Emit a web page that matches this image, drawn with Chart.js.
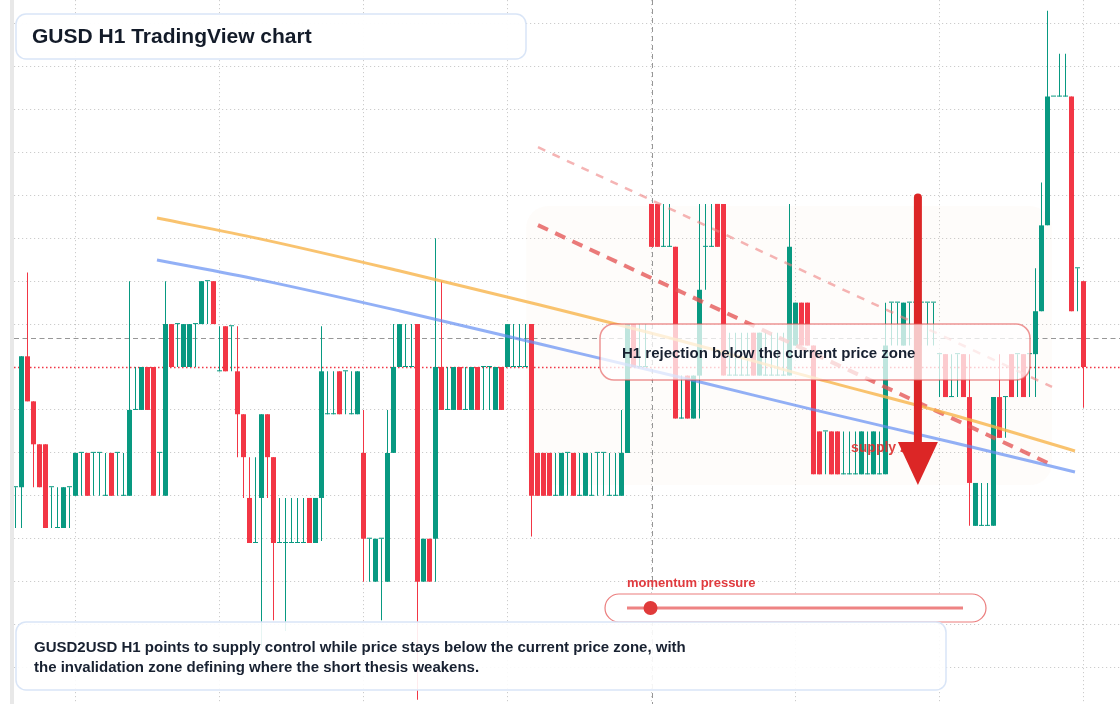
<!DOCTYPE html>
<html>
<head>
<meta charset="utf-8">
<title>GUSD H1 TradingView chart</title>
<script src="https://cdn.jsdelivr.net/npm/chart.js@4.4.1/dist/chart.umd.min.js"></script>
<style>
  html, body { margin: 0; padding: 0; background: #fff; }
  #wrap { width: 1120px; height: 704px; position: relative; }
</style>
</head>
<body>
<div id="wrap"><canvas id="gusdChart" width="1120" height="704"></canvas></div>
<script>
// H1 candles (index 0 = oldest bar)
const opens = [
  0.99944, 0.99944, 1.00005, 0.99984, 0.99964, 0.99964, 0.99944, 0.99925, 0.99925, 0.99944,
  0.9994, 0.9996, 0.9996, 0.9996, 0.9996, 0.9994, 0.9996, 0.9996, 0.9994, 0.9994,
  0.9998, 0.9998, 1.0, 1.0, 0.9996, 0.9994, 1.0002, 1.0002, 1.0, 1.0,
  1.0002, 1.0002, 1.0004, 1.0004, 0.99998, 1.00019, 1.00019, 0.99998, 0.99978, 0.99939,
  0.99918, 0.99939, 0.99978, 0.99958, 0.99918, 0.99918, 0.99918, 0.99918, 0.99918, 0.99939,
  0.99918, 0.99939, 0.99978, 0.99978, 0.99998, 0.99998, 0.99978, 0.99978, 0.9996, 0.9992,
  0.999, 0.9992, 0.999, 0.9996, 1.0, 1.0, 1.0, 1.0002, 0.999, 0.9992,
  0.9992, 1.0, 0.9998, 0.9998, 1.0, 0.9998, 0.9998, 1.0, 1.0, 1.0,
  0.9998, 1.0, 1.0, 1.0, 1.0, 1.0, 1.0002, 0.9996, 0.9996, 0.9996,
  0.9994, 0.9994, 0.9996, 0.9996, 0.9994, 0.9994, 0.9994, 0.9996, 0.9996, 0.9994,
  0.9994, 0.9994, 0.9996, 1.0002, 1.0, 1.0, 1.00076, 1.00076, 1.00056, 1.00056,
  1.00056, 0.99976, 0.99996, 0.99976, 0.99996, 1.00056, 1.00056, 1.00076, 1.00076, 0.99996,
  0.99996, 0.99996, 0.99996, 1.00016, 0.99996, 0.99996, 0.99996, 0.99996, 0.99996, 0.99996,
  1.0001, 1.0003, 1.0003, 1.0001, 0.9997, 0.9997, 0.9997, 0.9997, 0.9995, 0.9995,
  0.9995, 0.9995, 0.9995, 0.9995, 0.9995, 0.9995, 1.0003, 1.0003, 1.0001, 1.0003,
  1.0003, 1.0003, 1.0003, 1.0003, 1.00006, 1.00006, 0.99986, 1.00006, 1.00006, 0.99986,
  0.99926, 0.99926, 0.99926, 0.99926, 0.99986, 0.99986, 1.00006, 1.00006, 1.00006, 1.00006,
  1.00006, 1.00026, 1.00066, 1.00126, 1.00126, 1.00126, 1.00126, 1.00046, 1.0004,
];
const highs = [
  0.99944, 1.00005, 1.00044, 0.99984, 0.99964, 0.99964, 0.99944, 0.99944, 0.99944, 0.99944,
  0.9996, 0.9996, 0.9996, 0.9996, 0.9996, 0.9996, 0.9996, 0.9996, 0.9996, 1.0004,
  1.0, 1.0, 1.0, 1.0, 0.9996, 1.0004, 1.0002, 1.0002, 1.0002, 1.0002,
  1.0002, 1.0004, 1.0004, 1.0004, 1.00019, 1.00019, 1.00019, 1.00019, 0.99978, 0.99958,
  0.99958, 0.99978, 0.99978, 0.99958, 0.99939, 0.99939, 0.99939, 0.99939, 0.99939, 0.99939,
  0.99939, 1.00019, 0.99998, 0.99998, 0.99998, 0.99998, 0.99998, 0.99998, 0.9998, 0.9992,
  0.9992, 0.9992, 0.9998, 1.0002, 1.0002, 1.0002, 1.0002, 1.0002, 0.9992, 0.9992,
  1.0006, 1.0004, 1.0, 1.0, 1.0, 1.0, 1.0, 1.0, 1.0, 1.0,
  1.0, 1.0, 1.0002, 1.0002, 1.0002, 1.0002, 1.0002, 0.9996, 0.9996, 0.9996,
  0.9996, 0.9996, 0.9996, 0.9996, 0.9996, 0.9996, 0.9996, 0.9996, 0.9996, 0.9996,
  0.9996, 0.9998, 1.0002, 1.0002, 1.0002, 1.0002, 1.00076, 1.00076, 1.00076, 1.00076,
  1.00056, 0.99996, 0.99996, 0.99996, 1.00076, 1.00076, 1.00076, 1.00076, 1.00076, 1.00016,
  1.00016, 1.00016, 1.00016, 1.00016, 1.00016, 1.00016, 1.00016, 1.00016, 1.00016, 1.00076,
  1.0003, 1.0003, 1.0003, 1.0001, 0.9997, 0.9997, 0.9997, 0.9997, 0.9997, 0.9997,
  0.9997, 0.9997, 0.9997, 0.9997, 0.9997, 1.0003, 1.0003, 1.0003, 1.0003, 1.0003,
  1.0003, 1.0003, 1.0003, 1.0003, 1.00006, 1.00006, 1.00006, 1.00006, 1.00006, 1.00006,
  0.99946, 0.99946, 0.99946, 0.99986, 1.00006, 0.99986, 1.00006, 1.00006, 1.00006, 1.00006,
  1.00046, 1.00086, 1.00166, 1.00126, 1.00146, 1.00146, 1.00126, 1.00046, 1.0004,
];
const lows = [
  0.99925, 0.99925, 0.99984, 0.99944, 0.99944, 0.99925, 0.99925, 0.99925, 0.99925, 0.99925,
  0.9994, 0.9994, 0.9994, 0.9994, 0.9994, 0.9994, 0.9994, 0.9994, 0.9994, 0.9994,
  0.9998, 0.9998, 0.9998, 0.9994, 0.9994, 0.9994, 1.0, 1.0, 1.0, 1.0,
  1.0, 1.0002, 1.0002, 1.0002, 0.99998, 0.99998, 0.99998, 0.99958, 0.99939, 0.99918,
  0.99918, 0.9987, 0.99939, 0.99882, 0.99918, 0.99877, 0.99918, 0.99918, 0.99918, 0.99918,
  0.99918, 0.99919, 0.99978, 0.99978, 0.99978, 0.99978, 0.99978, 0.99978, 0.999, 0.999,
  0.999, 0.99882, 0.999, 0.9996, 1.0, 1.0, 1.0, 0.99845, 0.999, 0.999,
  0.999, 0.9998, 0.9998, 0.9998, 0.9998, 0.9998, 0.9998, 0.9998, 0.9998, 0.9998,
  0.9998, 0.9998, 1.0, 1.0, 1.0, 1.0, 0.99921, 0.9994, 0.9994, 0.9994,
  0.9994, 0.9994, 0.9994, 0.9994, 0.9994, 0.9994, 0.9994, 0.9994, 0.9994, 0.9994,
  0.9994, 0.9994, 0.9996, 1.0, 1.0, 1.0, 1.00056, 1.00056, 1.00056, 1.00056,
  0.99976, 0.99976, 0.99976, 0.99976, 0.99976, 1.00036, 1.00056, 1.00056, 0.99996, 0.99996,
  0.99996, 0.99996, 0.99996, 0.99996, 0.99996, 0.99996, 0.99996, 0.99996, 0.99996, 0.99996,
  1.0001, 1.0001, 1.0001, 0.9995, 0.9995, 0.9995, 0.9995, 0.9995, 0.9995, 0.9995,
  0.9995, 0.9995, 0.9995, 0.9995, 0.9995, 0.9995, 1.0001, 1.0001, 1.0001, 1.0001,
  1.0001, 1.0001, 1.0001, 1.0001, 0.99986, 0.99986, 0.99986, 0.99986, 0.99986, 0.99926,
  0.99926, 0.99926, 0.99926, 0.99926, 0.99967, 0.99967, 0.99986, 0.99986, 0.99986, 0.99986,
  0.99986, 1.00026, 1.00066, 1.00126, 1.00126, 1.00126, 1.00026, 1.00026, 0.99981,
];
const closes = [
  0.99944, 1.00005, 0.99984, 0.99964, 0.99944, 0.99925, 0.99944, 0.99925, 0.99944, 0.99944,
  0.9996, 0.9996, 0.9994, 0.9996, 0.9996, 0.9994, 0.9994, 0.9996, 0.9994, 0.9998,
  0.9998, 1.0, 0.9998, 0.9994, 0.9996, 1.0002, 1.0, 1.0002, 1.0002, 1.0002,
  1.0002, 1.0004, 1.0004, 1.0002, 0.99998, 0.99998, 1.00019, 0.99978, 0.99958, 0.99918,
  0.99918, 0.99978, 0.99958, 0.99918, 0.99918, 0.99918, 0.99918, 0.99918, 0.99918, 0.99918,
  0.99939, 0.99998, 0.99978, 0.99978, 0.99978, 0.99998, 0.99978, 0.99998, 0.9992, 0.9992,
  0.9992, 0.9992, 0.9996, 1.0, 1.0002, 1.0, 1.0, 0.999, 0.9992, 0.999,
  1.0, 0.9998, 0.9998, 1.0, 0.9998, 0.9998, 1.0, 0.9998, 1.0, 1.0,
  1.0, 0.9998, 1.0002, 1.0, 1.0, 1.0, 0.9994, 0.9994, 0.9994, 0.9994,
  0.9994, 0.9996, 0.9996, 0.9994, 0.9994, 0.9996, 0.9994, 0.9996, 0.9996, 0.9994,
  0.9994, 0.9996, 1.0002, 1.0, 1.0, 1.0, 1.00056, 1.00056, 1.00056, 1.00056,
  0.99976, 0.99976, 0.99976, 0.99996, 1.00036, 1.00056, 1.00056, 1.00056, 0.99996, 0.99996,
  0.99996, 0.99996, 0.99996, 0.99996, 1.00016, 0.99996, 0.99996, 0.99996, 0.99996, 1.00056,
  1.0003, 1.0001, 1.0001, 0.9995, 0.9995, 0.9997, 0.9995, 0.9995, 0.9995, 0.9995,
  0.9995, 0.9997, 0.9995, 0.9997, 0.9995, 1.0001, 1.0003, 1.0003, 1.0003, 1.0003,
  1.0003, 1.0003, 1.0003, 1.0003, 1.00006, 0.99986, 0.99986, 1.00006, 0.99986, 0.99946,
  0.99946, 0.99926, 0.99926, 0.99986, 0.99967, 0.99986, 0.99986, 1.00006, 0.99986, 1.00006,
  1.00026, 1.00066, 1.00126, 1.00126, 1.00126, 1.00126, 1.00026, 1.00046, 1.0,
];

// the two smooth trend curves (bar index, price)
const fastTrendX = [23.58, 40.75, 64.08, 87.42, 114.08, 132.42, 157.42, 176.58];
const fastTrendY = [1.000694, 1.000597, 1.000447, 1.000289, 1.000098, 0.999954, 0.999767, 0.999609];
const slowTrendX = [23.58, 40.75, 64.08, 87.42, 114.08, 132.42, 156.58, 176.58];
const slowTrendY = [1.000499, 1.000406, 1.000261, 1.000107, 0.99993, 0.999805, 0.999646, 0.999511];

// descending supply trendlines
const supplyLineX = [87.08, 172.75];
const supplyLineY = [1.000661, 0.999544];
const upperLineX = [87.08, 172.75];
const upperLineY = [1.001024, 0.999907];

// supply zone box, price lines, crosshair and arrow
const zoneStart = 85.1;
const zoneEnd = 172.75;
const zoneTop = 1.00075;
const zoneBottom = 0.99945;
const currentPrice = 1.0;
const crosshairPrice = 1.000134;
const crosshairIndex = 106;
const arrowIndex = 150.4;
const arrowFrom = 1.00079;
const arrowTo = 0.99945;
const supplyLabelIndex = 139.25;
const supplyLabelPrice = 0.99962;
const momentumLevel = 0.07; // 0..1 along the slider

// grid positions
const xGridTicks = [10, 34, 58, 82, 106, 130, 154, 178];
const yGridTicks = [0.9986, 0.9988, 0.999, 0.9992, 0.9994, 0.9996, 0.9998, 1.0,
  1.0002, 1.0004, 1.0006, 1.0008, 1.001, 1.0012, 1.0014, 1.0016];

const UP = "#089981";
const DOWN = "#f23645";
const FONT = '"Liberation Sans", Arial, sans-serif';

const candleColor = (i) => (closes[i] < opens[i] ? DOWN : UP);
const bodyData = opens.map((o, i) => ({ x: i, y: [o, closes[i]] }));
const wickData = opens.map((o, i) => ({ x: i, y: [lows[i], highs[i]] }));
const toPoints = (xs, ys) => xs.map((x, i) => ({ x, y: ys[i] }));

// rounded box helper
const roundedBox = (ctx, x, y, w, h, r, fill, stroke, lw) => {
  ctx.beginPath();
  ctx.roundRect(x, y, w, h, r);
  if (fill) {
    ctx.fillStyle = fill;
    ctx.fill();
  }
  if (stroke) {
    ctx.strokeStyle = stroke;
    ctx.lineWidth = lw || 1;
    ctx.stroke();
  }
};

const overlayPlugin = {
  id: "overlay",
  beforeDraw(chart) {
    const { ctx } = chart;
    ctx.save();
    ctx.fillStyle = "#ffffff";
    ctx.fillRect(0, 0, chart.width, chart.height);
    ctx.fillStyle = "#e8e8e8";
    ctx.fillRect(10, 0, 4, chart.height);
    ctx.restore();
  },
  beforeDatasetsDraw(chart) {
    const { ctx, chartArea: area, scales } = chart;
    const xs = scales.x;
    const ys = scales.y;
    ctx.save();
    // supply zone shading
    const zx = xs.getPixelForValue(zoneStart);
    const zy = ys.getPixelForValue(zoneTop);
    roundedBox(ctx, zx, zy, xs.getPixelForValue(zoneEnd) - zx, ys.getPixelForValue(zoneBottom) - zy, 22,
      "rgba(236, 190, 160, 0.05)");

    // crosshair
    ctx.lineWidth = 1.2;
    ctx.strokeStyle = "rgba(145, 145, 145, 0.95)";
    ctx.setLineDash([5, 3.5]);
    const cy = Math.round(ys.getPixelForValue(crosshairPrice)) + 0.5;
    ctx.beginPath();
    ctx.moveTo(area.left, cy);
    ctx.lineTo(area.right, cy);
    ctx.stroke();
    ctx.lineWidth = 1;
    ctx.setLineDash([5, 4]);
    const cx = Math.round(xs.getPixelForValue(crosshairIndex)) + 0.5;
    ctx.beginPath();
    ctx.moveTo(cx, area.top);
    ctx.lineTo(cx, area.bottom);
    ctx.stroke();

    // current price line
    ctx.strokeStyle = "#f23645";
    ctx.lineWidth = 1.3;
    ctx.setLineDash([1.5, 2.5]);
    const py = Math.round(ys.getPixelForValue(currentPrice)) + 0.5;
    ctx.beginPath();
    ctx.moveTo(area.left, py);
    ctx.lineTo(area.right, py);
    ctx.stroke();
    ctx.restore();
  },
  afterDatasetsDraw(chart) {
    const { ctx, scales } = chart;
    const xs = scales.x;
    const ys = scales.y;
    ctx.save();
    ctx.textBaseline = "middle";

    // supply zone label, then the arrow on top of it
    ctx.font = `bold 14px ${FONT}`;
    ctx.fillStyle = "rgba(222, 45, 45, 0.9)";
    ctx.fillText("supply zone", xs.getPixelForValue(supplyLabelIndex), ys.getPixelForValue(supplyLabelPrice));

    const ax = xs.getPixelForValue(arrowIndex);
    const aTop = ys.getPixelForValue(arrowFrom);
    const aTip = ys.getPixelForValue(arrowTo);
    const headLen = 43;
    ctx.strokeStyle = "#dc2626";
    ctx.fillStyle = "#dc2626";
    ctx.lineWidth = 8;
    ctx.lineCap = "round";
    ctx.beginPath();
    ctx.moveTo(ax, aTop);
    ctx.lineTo(ax, aTip - headLen + 4);
    ctx.stroke();
    ctx.beginPath();
    ctx.moveTo(ax - 20, aTip - headLen);
    ctx.lineTo(ax + 20, aTip - headLen);
    ctx.lineTo(ax, aTip);
    ctx.closePath();
    ctx.fill();

    // rejection callout
    roundedBox(ctx, 600, 324, 430, 56, 14, "rgba(255, 255, 255, 0.74)", "rgba(226, 80, 80, 0.6)", 1.5);
    ctx.font = `bold 15px ${FONT}`;
    ctx.fillStyle = "#182131";
    ctx.fillText("H1 rejection below the current price zone", 622, 354);

    // title card
    roundedBox(ctx, 16, 14, 510, 45, 10, "rgba(255, 255, 255, 0.95)", "#d9e5f7", 1.5);
    ctx.font = `bold 21px ${FONT}`;
    ctx.fillStyle = "#131b29";
    ctx.fillText("GUSD H1 TradingView chart", 32, 37);

    // momentum slider
    ctx.font = `bold 13px ${FONT}`;
    ctx.fillStyle = "#e03a3e";
    ctx.fillText("momentum pressure", 627, 583);
    roundedBox(ctx, 605, 594, 381, 28, 14, "#ffffff", "rgba(226, 70, 70, 0.7)", 1.2);
    const trackL = 627;
    const trackR = 963;
    ctx.strokeStyle = "rgba(232, 90, 90, 0.75)";
    ctx.lineWidth = 3;
    ctx.lineCap = "butt";
    ctx.beginPath();
    ctx.moveTo(trackL, 608);
    ctx.lineTo(trackR, 608);
    ctx.stroke();
    ctx.fillStyle = "#e03a3a";
    ctx.beginPath();
    ctx.arc(trackL + (trackR - trackL) * momentumLevel, 608, 7, 0, Math.PI * 2);
    ctx.fill();

    // summary card
    roundedBox(ctx, 16, 622, 930, 68, 10, "rgba(255, 255, 255, 0.9)", "#d9e5f7", 1.5);
    ctx.font = `bold 15px ${FONT}`;
    ctx.fillStyle = "#182131";
    ctx.fillText("GUSD2USD H1 points to supply control while price stays below the current price zone, with", 34, 648);
    ctx.fillText("the invalidation zone defining where the short thesis weakens.", 34, 668);
    ctx.restore();
  },
};

const gridStyle = {
  color: "rgba(0, 0, 0, 0.2)",
  drawTicks: false,
  offset: false,
};

new Chart(document.querySelector("#gusdChart"), {
  type: "bar",
  data: {
    datasets: [
      {
        type: "line",
        label: "fast trend",
        data: toPoints(fastTrendX, fastTrendY),
        borderColor: "rgba(248, 180, 75, 0.8)",
        borderWidth: 3,
        pointRadius: 0,
        cubicInterpolationMode: "monotone",
        order: 0,
      },
      {
        type: "line",
        label: "slow trend",
        data: toPoints(slowTrendX, slowTrendY),
        borderColor: "rgba(100, 142, 242, 0.7)",
        borderWidth: 3,
        pointRadius: 0,
        cubicInterpolationMode: "monotone",
        order: 0,
      },
      {
        type: "line",
        label: "supply trendline",
        data: toPoints(supplyLineX, supplyLineY),
        borderColor: "rgba(228, 85, 85, 0.78)",
        borderWidth: 4,
        borderDash: [11, 8],
        pointRadius: 0,
        order: 0,
      },
      {
        type: "line",
        label: "upper trendline",
        data: toPoints(upperLineX, upperLineY),
        borderColor: "rgba(238, 130, 130, 0.6)",
        borderWidth: 2.5,
        borderDash: [8, 8],
        pointRadius: 0,
        order: 0,
      },
      {
        label: "bodies",
        data: bodyData,
        backgroundColor: (c) => candleColor(c.dataIndex),
        barThickness: 5,
        minBarLength: 1,
        grouped: false,
        inflateAmount: 0,
        borderWidth: 0,
        order: 1,
      },
      {
        label: "wicks",
        data: wickData,
        backgroundColor: (c) => candleColor(c.dataIndex),
        barThickness: 1,
        grouped: false,
        inflateAmount: 0,
        borderWidth: 0,
        order: 2,
      },
    ],
  },
  options: {
    responsive: false,
    animation: false,
    devicePixelRatio: 1,
    events: [],
    layout: { padding: { left: 14, right: 0, top: 0, bottom: 0 }, autoPadding: false },
    plugins: {
      legend: { display: false },
      tooltip: { enabled: false },
    },
    scales: {
      x: {
        type: "linear",
        min: -0.25,
        max: 184.0833,
        offset: false,
        ticks: { display: false },
        grid: gridStyle,
        border: { display: false, dash: [1.2, 2.8] },
        afterBuildTicks: (scale) => {
          scale.ticks = xGridTicks.map((v) => ({ value: v }));
        },
      },
      y: {
        type: "linear",
        min: 0.99843,
        max: 1.00171,
        beginAtZero: false,
        ticks: { display: false },
        grid: gridStyle,
        border: { display: false, dash: [1.2, 2.8] },
        afterBuildTicks: (scale) => {
          scale.ticks = yGridTicks.map((v) => ({ value: v }));
        },
      },
    },
  },
  plugins: [overlayPlugin],
});
</script>
</body>
</html>
